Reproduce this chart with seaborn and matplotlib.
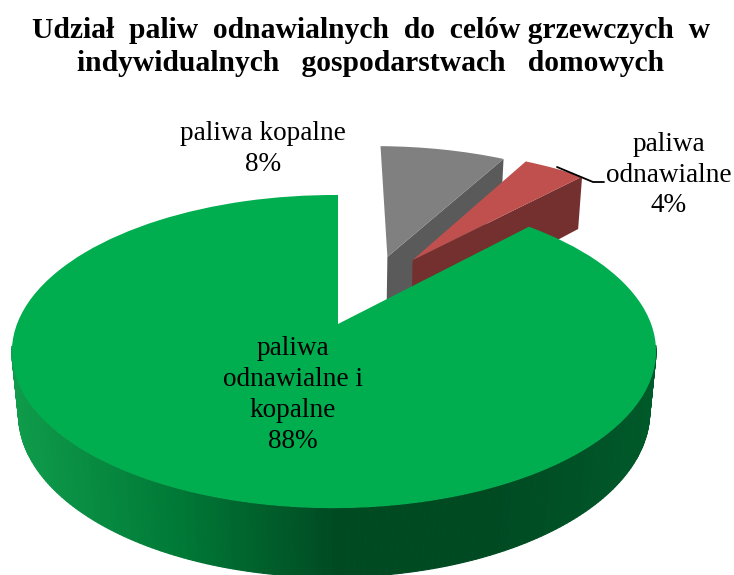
import numpy as np
import matplotlib
matplotlib.use("Agg")
import matplotlib.pyplot as plt
import matplotlib.transforms as mtransforms
import seaborn as sns

TITLE = "Udział  paliw  odnawialnych  do  celów grzewczych  w\nindywidualnych   gospodarstwach   domowych"
names = ["paliwa kopalne", "paliwa\nodnawialne", "paliwa\nodnawialne i\nkopalne"]
shares = [8, 4, 88]
top_colors = ["#808080", "#bf504d", "#00ae4f"]
wall_colors = ["#5a5a5a", "#74302e", "#004a22"]
green_wall = ["#0f9c4b", "#007a37", "#004a22", "#004a22", "#005a2a"]
explode = [0.5, 0.49, 0.0]
nudges = [(0.045, -0.004), (-0.033, 0.06), (0.0, 0.0)]
label_pos = [(263, 149), (669, 175), (293, 395)]


class Tilt(mtransforms.Transform):
    """Pie plane seen from above, in pixels of the picture."""
    input_dims = 2
    output_dims = 2

    def __init__(self, floor=False):
        super().__init__()
        self.drop = 62.0 if floor else 0.0
        self.shrink = 0.02 if floor else 0.0

    def transform_non_affine(self, values):
        u, v = np.asarray(values).T
        w = 1 + 0.176 * v + 0.0124 * u + self.shrink
        return np.column_stack([338 + 317 * u / w, 324 + (self.drop - 151.7 * v) / w])


sns.set_theme(style="white")
plt.rcParams["font.family"] = ["Liberation Serif", "DejaVu Serif"]

fig = plt.figure(figsize=(7.34, 5.75), dpi=100)
ax = fig.add_axes([0, 0, 1, 1])

wedges, _ = ax.pie(shares, explode=explode, startangle=90, counterclock=False,
                   colors=sns.color_palette(top_colors), radius=1)
ax.set_aspect("auto")
ax.set_xlim(0, 734)
ax.set_ylim(575, 0)
ax.axis("off")

top = Tilt()
floor = Tilt(floor=True)


def rim(wedge, degrees):
    rad = np.radians(degrees)
    cx, cy = wedge.center
    return np.column_stack([cx + wedge.r * np.cos(rad), cy + wedge.r * np.sin(rad)])


for i, wedge in enumerate(wedges):
    wedge.set_center(np.array(wedge.center) + np.array(nudges[i]))
    wedge.set_transform(top + ax.transData)
    wedge.set_linewidth(0)
    wedge.set_zorder(2 * i + 2)

    if i < 2:
        # cut face under the clockwise edge of the small slices
        corner = rim(wedge, np.array([wedge.theta1]))
        apex = np.array([wedge.center])
        upper = top.transform(np.vstack([apex, corner]))
        lower = floor.transform(np.vstack([corner, apex]))
        ax.fill(*np.vstack([upper, lower]).T, color=wall_colors[i], lw=0, zorder=2 * i + 1)

# outer wall of the big slice, front half only
big = wedges[2]
angles = np.linspace(-172, -8, 201)
edge = rim(big, angles)
upper = top.transform(edge)
lower = floor.transform(edge)
ramp = sns.blend_palette(green_wall, 256)
for j in range(len(angles) - 1):
    quad = np.vstack([upper[j:j + 2], lower[j:j + 2][::-1]])
    shade = int(np.clip((quad[:, 0].mean() - 15) / 640, 0, 1) * 255)
    ax.fill(*quad.T, color=ramp[shade], lw=0.8, zorder=5)

fig.text(371 / 734, 1 - 47 / 575, TITLE, ha="center", va="center", fontsize=21.3,
         fontweight="bold", linespacing=1.27, color="black")

for name, share, (x, y) in zip(names, shares, label_pos):
    ax.text(x, y, f"{name}\n{share}%", ha="center", va="center", fontsize=19.6,
            linespacing=1.3, color="black", zorder=10)

ax.plot([557, 593, 604], [167, 182, 182], color="black", lw=1.3, zorder=10)

fig.savefig("out.png", dpi=100)
